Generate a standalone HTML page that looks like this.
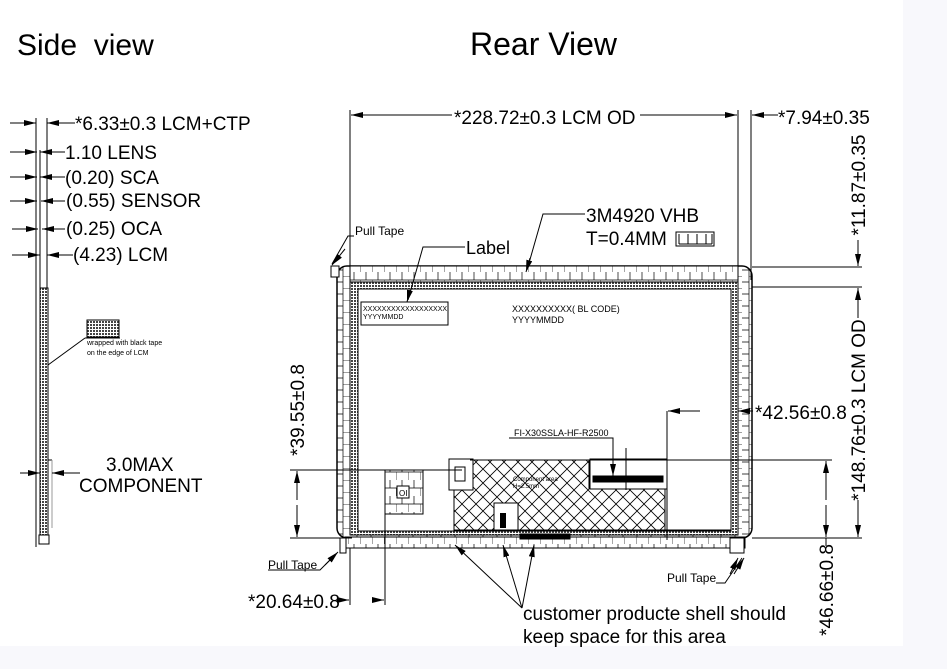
<!DOCTYPE html>
<html><head><meta charset="utf-8"><style>
html,body{margin:0;padding:0;background:#fff;}
svg{display:block;}
text{font-family:"Liberation Sans",Arial,sans-serif;fill:#000;white-space:pre;}
</style></head><body>
<svg width="947" height="669" viewBox="0 0 947 669" xmlns="http://www.w3.org/2000/svg">
<defs>
<pattern id="dots" width="3" height="3" patternUnits="userSpaceOnUse"><rect width="3" height="3" fill="#fff"/><rect width="2" height="2" fill="#444"/></pattern>
<pattern id="cross" width="14" height="14" patternUnits="userSpaceOnUse"><rect width="14" height="14" fill="#fff"/><path d="M0 0L14 14M14 0L0 14" stroke="#000" stroke-width="0.8"/></pattern>
<pattern id="brickH" width="12" height="16" patternUnits="userSpaceOnUse"><rect width="12" height="16" fill="#fff"/><path d="M0 8H12M6 0V8M0 8V16" stroke="#000" stroke-width="0.7" fill="none"/></pattern>
<pattern id="brickV" width="14" height="12" patternUnits="userSpaceOnUse"><rect width="14" height="12" fill="#fff"/><path d="M7 0V12M0 6H7M7 0H14" stroke="#000" stroke-width="0.7" fill="none"/></pattern>
<marker id="ar" markerWidth="12" markerHeight="6" refX="12" refY="3" orient="auto" markerUnits="userSpaceOnUse"><path d="M0 0L12 3L0 6z" fill="#000"/></marker>
</defs>
<rect x="0" y="646" width="947" height="23" fill="#f8f8fc"/>
<rect x="903" y="0" width="44" height="669" fill="#f8f8fc"/>

<text x="17" y="55" font-size="30" xml:space="preserve">Side  view</text>
<text x="470" y="55" font-size="32">Rear View</text>

<!-- side view -->
<g stroke="#000" stroke-width="1" fill="none">
<line x1="36" y1="118" x2="36" y2="547"/>
<line x1="40" y1="150" x2="40" y2="540"/>
<line x1="47" y1="118" x2="47" y2="290"/>
<rect x="40" y="288" width="8" height="247" fill="url(#dots)"/>
<rect x="39" y="535" width="10" height="9" fill="#fff"/>
<line x1="48" y1="460" x2="52" y2="460"/><line x1="52" y1="460" x2="52" y2="528" stroke="#999"/>
<line x1="10" y1="123" x2="36" y2="123" marker-end="url(#ar)"/><line x1="75" y1="123" x2="47" y2="123" marker-end="url(#ar)"/>
<line x1="10" y1="152" x2="37" y2="152" marker-end="url(#ar)"/><line x1="65" y1="152" x2="40" y2="152" marker-end="url(#ar)"/>
<line x1="10" y1="177" x2="37" y2="177" marker-end="url(#ar)"/><line x1="65" y1="177" x2="40" y2="177" marker-end="url(#ar)"/>
<line x1="10" y1="201" x2="37" y2="201" marker-end="url(#ar)"/><line x1="65" y1="201" x2="41" y2="201" marker-end="url(#ar)"/>
<line x1="12" y1="229" x2="38" y2="229" marker-end="url(#ar)"/><line x1="65" y1="229" x2="42" y2="229" marker-end="url(#ar)"/>
<line x1="12" y1="255" x2="40" y2="255" marker-end="url(#ar)"/><line x1="73" y1="255" x2="47" y2="255" marker-end="url(#ar)"/>
<line x1="20" y1="473" x2="40" y2="473" marker-end="url(#ar)"/><line x1="80" y1="473" x2="52" y2="473" marker-end="url(#ar)"/>
<rect x="87" y="320" width="32" height="17" fill="url(#dots)"/>
<line x1="85" y1="338" x2="120" y2="338"/>
<line x1="85" y1="338" x2="48" y2="365"/>
</g>
<text x="75" y="130" font-size="19">*6.33±0.3 LCM+CTP</text>
<text x="65" y="159" font-size="19">1.10 LENS</text>
<text x="65" y="184" font-size="19">(0.20) SCA</text>
<text x="66" y="207" font-size="19">(0.55) SENSOR</text>
<text x="66" y="235" font-size="19">(0.25) OCA</text>
<text x="73" y="261" font-size="19">(4.23) LCM</text>
<text x="87" y="345" font-size="7">wrapped with black tape</text>
<text x="87" y="355" font-size="7">on the edge of LCM</text>
<text x="106" y="471" font-size="19">3.0MAX</text>
<text x="79" y="492" font-size="19">COMPONENT</text>

<!-- rear view -->
<g stroke="#000" stroke-width="1" fill="none">
<rect x="337" y="266" width="415" height="272" rx="10" fill="url(#brickV)" stroke-width="1.5"/>
<rect x="350" y="266" width="388" height="16" fill="url(#brickH)"/>
<rect x="345" y="537" width="400" height="11" fill="url(#brickH)"/>
<rect x="350" y="282" width="388" height="253" fill="url(#dots)"/>
<rect x="358" y="289" width="373" height="242" fill="#fff"/>
<rect x="331" y="266" width="8" height="11" fill="#fff"/>
<rect x="340" y="538" width="6" height="15" fill="#fff"/>
<rect x="730" y="538" width="14" height="15" fill="#fff"/>
<line x1="350" y1="282" x2="738" y2="282"/>
<rect x="361" y="302" width="87" height="23" fill="#fff"/>
<path d="M452 460H589V488H665V530H454V490H452Z" fill="url(#cross)"/>
<rect x="449" y="459" width="24" height="31" fill="#fff"/>
<rect x="590" y="459" width="77" height="30" fill="#fff"/>
<rect x="494" y="503" width="24" height="28" fill="#fff"/>
<rect x="500" y="513" width="6" height="15" fill="#000" stroke="none"/>
<rect x="455" y="467" width="10" height="14"/>
<rect x="593" y="476" width="70" height="6" fill="#000"/>
<rect x="385" y="470" width="38" height="44" fill="url(#brickH)"/>
<rect x="397" y="486" width="12" height="12" fill="#fff"/>
<line x1="473" y1="530" x2="731" y2="530"/>
<rect x="520" y="534" width="50" height="5" fill="#000"/>
<line x1="350" y1="110" x2="350" y2="266"/>
<line x1="738" y1="110" x2="738" y2="266"/>
<line x1="751" y1="110" x2="751" y2="280"/>
<line x1="640" y1="115" x2="737" y2="115" marker-end="url(#ar)"/>
<line x1="452" y1="115" x2="351" y2="115" marker-end="url(#ar)"/>
<line x1="778" y1="115" x2="752" y2="115" marker-end="url(#ar)"/>
<line x1="752" y1="267" x2="862" y2="267"/>
<line x1="752" y1="287" x2="862" y2="287"/>
<line x1="752" y1="538" x2="862" y2="538"/>
<line x1="858" y1="240" x2="858" y2="266" marker-end="url(#ar)"/>
<line x1="858" y1="318" x2="858" y2="288" marker-end="url(#ar)"/>
<line x1="858" y1="500" x2="858" y2="537" marker-end="url(#ar)"/>
<line x1="667" y1="411" x2="667" y2="540"/>
<line x1="700" y1="411" x2="668" y2="411" marker-end="url(#ar)"/>
<line x1="753" y1="411" x2="738" y2="411" marker-end="url(#ar)"/>
<line x1="290" y1="470" x2="462" y2="470"/>
<line x1="290" y1="538" x2="352" y2="538"/>
<line x1="297" y1="500" x2="297" y2="471" marker-end="url(#ar)"/>
<line x1="297" y1="505" x2="297" y2="537" marker-end="url(#ar)"/>
<line x1="470" y1="460" x2="832" y2="460"/>
<line x1="826" y1="500" x2="826" y2="461" marker-end="url(#ar)"/>
<line x1="826" y1="505" x2="826" y2="537" marker-end="url(#ar)"/>
<line x1="826" y1="538" x2="826" y2="546"/>
<line x1="350" y1="548" x2="350" y2="605"/>
<line x1="385" y1="470" x2="385" y2="605"/>
<line x1="337" y1="600" x2="349" y2="600" marker-end="url(#ar)"/>
<line x1="372" y1="600" x2="384" y2="600" marker-end="url(#ar)"/>
<polyline points="354,236 348,236 332,264" />
<line x1="345" y1="249" x2="332" y2="265" marker-end="url(#ar)"/>
<polyline points="465,247 423,247 408,300"/>
<line x1="410" y1="290" x2="407" y2="302" marker-end="url(#ar)"/>
<polyline points="585,214 543,214 527,270"/>
<line x1="530" y1="258" x2="526" y2="272" marker-end="url(#ar)"/>
<rect x="676" y="232" width="38" height="14"/>
<path d="M679 244H688M688 234V244H697M697 234V244H706M706 234V244H712M712 234V244M679 234V244"/>
<polyline points="509,438 613,438 613,476"/>
<line x1="613" y1="465" x2="613" y2="476" marker-end="url(#ar)"/>
<line x1="626" y1="448" x2="626" y2="490"/>
<polyline points="268,570 320,570 335,555"/>
<line x1="325" y1="565" x2="338" y2="552" marker-end="url(#ar)"/>
<polyline points="716,583 725,583 742,558"/>
<line x1="730" y1="574" x2="738" y2="558" marker-end="url(#ar)"/>
<line x1="734" y1="574" x2="744" y2="558" marker-end="url(#ar)"/>
<line x1="522" y1="608" x2="455" y2="545" marker-end="url(#ar)"/>
<line x1="522" y1="608" x2="503" y2="545" marker-end="url(#ar)"/>
<line x1="522" y1="608" x2="534" y2="545" marker-end="url(#ar)"/>
</g>
<text x="355" y="235" font-size="12">Pull Tape</text>
<text x="466" y="254" font-size="18">Label</text>
<text x="586" y="222" font-size="19">3M4920 VHB</text>
<text x="586" y="245" font-size="19">T=0.4MM</text>
<text x="363" y="311" font-size="7">XXXXXXXXXXXXXXXXXX</text>
<text x="363" y="319" font-size="7">YYYYMMDD</text>
<text x="512" y="312" font-size="9">XXXXXXXXXX( BL CODE)</text>
<text x="512" y="323" font-size="9">YYYYMMDD</text>
<text x="514" y="436" font-size="9">FI-X30SSLA-HF-R2500</text>
<text x="513" y="481" font-size="6" fill="#333">Component area</text>
<text x="513" y="488" font-size="6" fill="#333">H=2.5mm</text>
<text x="399" y="496" font-size="8">OI</text>
<text x="454" y="124" font-size="19">*228.72±0.3 LCM OD</text>
<text x="778" y="124" font-size="19">*7.94±0.35</text>
<text x="755" y="419" font-size="19">*42.56±0.8</text>
<text x="248" y="608" font-size="19">*20.64±0.8</text>
<text x="268" y="569" font-size="12">Pull Tape</text>
<text x="667" y="582" font-size="12">Pull Tape</text>
<text x="523" y="620" font-size="19">customer producte shell should</text>
<text x="523" y="643" font-size="19">keep space for this area</text>
<text transform="translate(865,185) rotate(-90)" font-size="19" text-anchor="middle">*11.87±0.35</text>
<text transform="translate(865,410) rotate(-90)" font-size="19" text-anchor="middle">*148.76±0.3 LCM OD</text>
<text transform="translate(304,410) rotate(-90)" font-size="19" text-anchor="middle">*39.55±0.8</text>
<text transform="translate(833,590) rotate(-90)" font-size="19" text-anchor="middle">*46.66±0.8</text>
</svg>
</body></html>
